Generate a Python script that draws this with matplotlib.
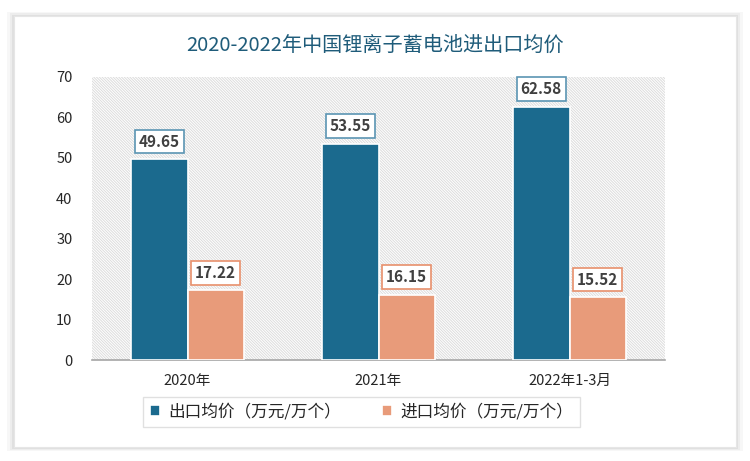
import matplotlib
matplotlib.use("Agg")
import numpy as np
import matplotlib.pyplot as plt
from matplotlib.patches import Rectangle

plt.rcParams['font.family'] = ['Noto Sans CJK SC', 'DejaVu Sans']
plt.rcParams['hatch.color'] = '#dcdcdc'
plt.rcParams['hatch.linewidth'] = 0.7

categories = ['2020年', '2021年', '2022年1-3月']
export_price = [49.65, 53.55, 62.58]
import_price = [17.22, 16.15, 15.52]
series_names = ['出口均价（万元/万个）', '进口均价（万元/万个）']
title = '2020-2022年中国锂离子蓄电池进出口均价'

blue = '#1b6a8e'
orange = '#e89b7a'

fig = plt.figure(figsize=(7.5, 4.61), dpi=100)

# card with soft shadow
for i, a in enumerate([0.05, 0.04, 0.03]):
    d = (i + 1) * 0.003
    fig.patches.append(Rectangle((0.019 - d, 0.030 - d), 0.962 + 2 * d, 0.935 + 2 * d,
                                 transform=fig.transFigure, facecolor='#000000',
                                 alpha=a, edgecolor='none', zorder=0))
fig.patches.append(Rectangle((0.019, 0.030), 0.962, 0.935, transform=fig.transFigure,
                             facecolor='white', edgecolor='#e6e6e6', lw=0.8, zorder=1))

ax = fig.add_axes([0.1227, 0.219, 0.764, 0.614])
ax.set_zorder(2)
ax.patch.set_facecolor('white')
ax.patch.set_hatch('\\' * 12)
ax.patch.set_edgecolor('#dcdcdc')
ax.patch.set_linewidth(0)

x = np.arange(len(categories))
w = 0.295
b1 = ax.bar(x - w / 2, export_price, w, color=blue, edgecolor='white', lw=1.2,
            label=series_names[0], zorder=3)
b2 = ax.bar(x + w / 2, import_price, w, color=orange, edgecolor='white', lw=1.2,
            label=series_names[1], zorder=3)

for bars, vals, ec in [(b1, export_price, '#5b95b3'), (b2, import_price, '#e8906c')]:
    for r, v in zip(bars, vals):
        ax.annotate(f'{v:.2f}', (r.get_x() + r.get_width() / 2, v),
                    xytext=(0, 7), textcoords='offset points', ha='center', va='bottom',
                    fontsize=11, fontweight='bold', color='#404040', zorder=5,
                    bbox=dict(boxstyle='square,pad=0.25', fc='white', ec=ec, lw=1.2))

ax.set_xlim(-0.5, 2.5)
ax.set_ylim(0, 70)
ax.set_yticks(range(0, 71, 10))
ax.set_xticks(x)
ax.set_xticklabels(categories)
ax.tick_params(axis='both', length=0, labelsize=10.5, colors='#262626')
ax.tick_params(axis='x', pad=10)
ax.tick_params(axis='y', pad=14)
for s in ['top', 'right', 'left']:
    ax.spines[s].set_visible(False)
ax.spines['bottom'].set_color('#a6a6a6')
ax.spines['bottom'].set_linewidth(1.2)

fig.text(0.5, 0.902, title, ha='center', va='center', fontsize=14.5,
         color='#1f5c7a', zorder=3)

leg = fig.legend(handles=[b1, b2], loc='center', bbox_to_anchor=(0.482, 0.107), ncol=2,
                 fontsize=12, frameon=True, fancybox=False, edgecolor='#d9d9d9',
                 handlelength=0.6, handleheight=0.6, handletextpad=0.5,
                 columnspacing=2.5, borderpad=0.4)
leg.get_frame().set_linewidth(1.0)
leg.set_zorder(3)
for t in leg.get_texts():
    t.set_color('#262626')

fig.savefig('out.png', dpi=100)
